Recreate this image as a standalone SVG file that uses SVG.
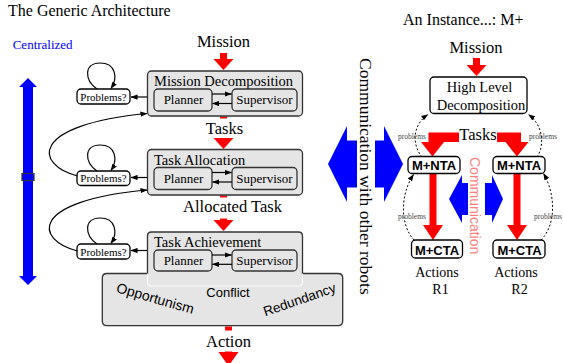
<svg xmlns="http://www.w3.org/2000/svg" width="563" height="363" viewBox="0 0 563 363">
<defs>
<marker id="ah" viewBox="0 0 8 6" refX="7.5" refY="3" markerWidth="7" markerHeight="5.5" markerUnits="userSpaceOnUse" orient="auto"><path d="M0,0 L8,3 L0,6 z" fill="#000"/></marker>
<style>
.serif{font-family:"Liberation Serif","Times New Roman",serif}
.sans{font-family:"Liberation Sans",Arial,sans-serif}
.box{fill:#e5e5e5;stroke:#333;stroke-width:1.3}
.wbox{fill:#fff;stroke:#000;stroke-width:1.3}
.red{fill:#ff0000}
.blue{fill:#0000ff}
.ln{fill:none;stroke:#000;stroke-width:1.2}
.dot{fill:none;stroke:#000;stroke-width:1;stroke-dasharray:2 2}
.bg{fill:#fff}
.lbl{font-size:16.5px;text-anchor:middle}
.ttl{font-size:14.5px}
.pl{font-size:13px;text-anchor:middle}
.pb{font-size:11px;text-anchor:middle}
.mb{font-size:13px;font-weight:bold;text-anchor:middle}
.sp{font-size:7.5px;fill:#444}
</style>
</defs>

<!-- titles -->
<text class="serif" x="8" y="15.7" font-size="16">The Generic Architecture</text>
<text class="serif" x="12.7" y="49.3" font-size="13" fill="#0000ff">Centralized</text>
<text class="serif" x="403" y="25" font-size="16">An Instance...: M+</text>

<!-- left vertical scale arrow -->
<g id="scale">
<polygon class="blue" points="28,78 37,87 33,87 33,276 37,276 28,285 19,276 23,276 23,87 19,87"/>
<rect x="22" y="173.5" width="12" height="7" fill="#0000ff" stroke="#333" stroke-width="1.2"/>
</g>

<!-- red flow arrows (left) -->
<g id="flow-left">
<path class="red" d="M220 53 H227 V59 H233.5 L223.5 70 L213.5 59 H220 Z"/>
<text class="serif lbl" x="223.5" y="47">Mission</text>
<path class="red" d="M220 116.5 H227 V138 H233.5 L223.5 149 L213.5 138 H220 Z"/>
<rect class="bg" x="200" y="118.5" width="48" height="19.5"/>
<text class="serif lbl" x="224.5" y="134">Tasks</text>
<path class="red" d="M220 195.5 H227 V220 H233.5 L223.5 231 L213.5 220 H220 Z"/>
<rect class="bg" x="178" y="197.5" width="110" height="21"/>
<text class="serif lbl" x="232.5" y="211.5">Allocated Task</text>
<path class="red" d="M225 326.5 H232 V352 H238.5 L228.5 366 L218.5 352 H225 Z"/>
<rect class="bg" x="200" y="330.5" width="56" height="21"/>
<text class="serif lbl" x="228.5" y="346.5">Action</text>
</g>

<!-- Mission Decomposition -->
<g id="mission-decomposition">
<rect class="box" x="147.5" y="71" width="155" height="45" rx="4"/>
<text class="serif ttl" x="154" y="86">Mission Decomposition</text>
<rect class="box" x="154" y="89" width="58" height="22" rx="4"/>
<text class="serif pl" x="183.5" y="104">Planner</text>
<rect class="box" x="232" y="89" width="65" height="22" rx="4"/>
<text class="serif pl" x="264.5" y="104">Supervisor</text>
<path class="ln" d="M212 94 H231.5" marker-end="url(#ah)"/>
<path class="ln" d="M232 103.5 H212.5" marker-end="url(#ah)"/>
</g>
<g id="problems-1">
<rect class="wbox" x="77" y="89" width="53" height="15" rx="4" stroke-width="1"/>
<text class="serif pb" x="103.5" y="100.5">Problems?</text>
</g>

<!-- Task Allocation -->
<g id="task-allocation">
<rect class="box" x="147.5" y="149.5" width="155" height="45.5" rx="4"/>
<text class="serif ttl" x="154" y="164.5">Task Allocation</text>
<rect class="box" x="154" y="167.5" width="58" height="22" rx="4"/>
<text class="serif pl" x="183.5" y="182.5">Planner</text>
<rect class="box" x="232" y="167.5" width="65" height="22" rx="4"/>
<text class="serif pl" x="264.5" y="182.5">Supervisor</text>
<path class="ln" d="M212 172.5 H231.5" marker-end="url(#ah)"/>
<path class="ln" d="M232 182 H212.5" marker-end="url(#ah)"/>
</g>
<g id="problems-2">
<rect class="wbox" x="77" y="171" width="53" height="14.5" rx="4" stroke-width="1"/>
<text class="serif pb" x="103.5" y="182">Problems?</text>
</g>

<!-- Task Achievement + conflict area -->
<g id="task-achievement">
<path class="box" d="M151.5 232 H298.5 Q302.5 232 302.5 236 V273.5 H338 Q342.7 273.5 342.7 278 V321 Q342.7 325.7 338 325.7 H107 Q102.3 325.7 102.3 321 V278 Q102.3 273.5 107 273.5 H147.5 V236 Q147.5 232 151.5 232 Z"/>
<path d="M147.5 273.5 V282 Q147.5 286 151.5 286 H298.5 Q302.5 286 302.5 282 V273.5" fill="none" stroke="#fff" stroke-width="1.2" opacity="0.85"/>
<text class="serif ttl" x="154" y="246.5">Task Achievement</text>
<rect class="box" x="154" y="250" width="58" height="21" rx="4"/>
<text class="serif pl" x="183.5" y="265">Planner</text>
<rect class="box" x="232" y="250" width="65" height="21" rx="4"/>
<text class="serif pl" x="264.5" y="265">Supervisor</text>
<path class="ln" d="M212 255 H231.5" marker-end="url(#ah)"/>
<path class="ln" d="M232 264.3 H212.5" marker-end="url(#ah)"/>
<text class="sans" font-size="14" text-anchor="middle" transform="translate(154,303) rotate(16)">Opportunism</text>
<text class="sans" font-size="13" text-anchor="middle" x="228" y="296.5">Conflict</text>
<text class="sans" font-size="13.5" text-anchor="middle" transform="translate(301,304) rotate(-19)">Redundancy</text>
</g>
<g id="problems-3">
<rect class="wbox" x="77" y="244" width="53" height="15" rx="4" stroke-width="1"/>
<text class="serif pb" x="103.5" y="255.5">Problems?</text>
</g>

<!-- left connectors -->
<g id="connectors-left">
<path class="ln" d="M147 97 H131" marker-end="url(#ah)"/>
<path class="ln" d="M147 177.5 H131" marker-end="url(#ah)"/>
<path class="ln" d="M147 250.5 H131" marker-end="url(#ah)"/>
<path class="ln" d="M97 89 C84 80,84 63,100 63 C116 63,118 78,111 88.5" marker-end="url(#ah)"/>
<path class="ln" d="M97 171 C84 162,84 145,100 145 C116 145,118 160,111 170.5" marker-end="url(#ah)"/>
<path class="ln" d="M97 244 C84 235,84 218,100 218 C116 218,118 233,111 243.5" marker-end="url(#ah)"/>
<path class="ln" d="M77.5 176 C35 165,28 125,147 113.5" marker-end="url(#ah)"/>
<path class="ln" d="M77.5 251 C35 240,28 201,147 190" marker-end="url(#ah)"/>
</g>

<!-- communication with other robots -->
<g id="communication-big">
<polygon class="blue" points="328,164 347,126 347,140.5 384,140.5 384,126 403,164 384,202 384,187.5 347,187.5 347,202"/>
<rect class="bg" x="357" y="120" width="18" height="90"/>
<text class="serif" font-size="17.5" transform="translate(359.5,58) rotate(90)">Communication with other robots</text>
</g>

<!-- right panel -->
<g id="flow-right">
<path class="red" d="M473 58 H480 V65 H486.5 L476.5 76 L466.5 65 H473 Z"/>
<text class="serif lbl" x="476" y="52.5">Mission</text>
<polygon class="red" points="459,132.5 428.5,132.5 428.5,142 421,142 432.5,156.5 444,142 459,142"/>
<polygon class="red" points="497,132.5 521,132.5 521,142 528.5,142 517,156.5 505.5,142 497,142"/>
<text class="serif lbl" x="478" y="139.5">Tasks</text>
<path class="red" d="M429.5 173.5 H436.5 V225 H443 L433 240 L423 225 H429.5 Z"/>
<path class="red" d="M513.5 173.5 H520.5 V225 H527 L517 240 L507 225 H513.5 Z"/>
</g>

<g id="communication-small">
<polygon class="blue" points="449,199 462,175 462,183 492,183 492,175 503,199 492,223 492,215 462,215 462,223"/>
<rect class="bg" x="468" y="168" width="17" height="60"/>
<text class="sans" font-size="14" fill="#ff7f7f" transform="translate(470,157) rotate(90)">Communication</text>
</g>

<g id="high-level-decomposition">
<rect class="wbox" x="430" y="77" width="97" height="36.5" rx="4"/>
<text class="serif" font-size="14.5" text-anchor="middle" x="479.5" y="91.5">High Level</text>
<text class="serif" font-size="14.5" text-anchor="middle" x="481" y="110">Decomposition</text>
</g>

<g id="nta-r1">
<rect class="wbox" x="408" y="156.5" width="52" height="17" rx="4"/>
<text class="sans mb" x="434" y="169.5">M+NTA</text>
</g>
<g id="nta-r2">
<rect class="wbox" x="493" y="156.5" width="52" height="17" rx="4"/>
<text class="sans mb" x="519" y="169.5">M+NTA</text>
</g>
<g id="cta-r1">
<rect class="wbox" x="411.5" y="240" width="51" height="18" rx="4"/>
<text class="sans mb" x="437" y="254.5">M+CTA</text>
</g>
<g id="cta-r2">
<rect class="wbox" x="493" y="240" width="52" height="18" rx="4"/>
<text class="sans mb" x="519.5" y="254.5">M+CTA</text>
</g>

<text class="serif" font-size="14" text-anchor="middle" x="437" y="277">Actions</text>
<text class="serif" font-size="14" text-anchor="middle" x="440.5" y="294">R1</text>
<text class="serif" font-size="14" text-anchor="middle" x="516" y="277">Actions</text>
<text class="serif" font-size="14" text-anchor="middle" x="519.5" y="294">R2</text>

<g id="connectors-right">
<path class="dot" d="M422 157 C412 145,412 125,428 114.5" marker-end="url(#ah)"/>
<path class="dot" d="M537 157 C545 145,543 125,528.5 114.5" marker-end="url(#ah)"/>
<path class="dot" d="M414 240 C400 225,400 195,413.5 174.5" marker-end="url(#ah)"/>
<path class="dot" d="M541 240 C556 225,556 195,543.5 173.5" marker-end="url(#ah)"/>
<text class="serif sp" x="398" y="138.5">problems</text>
<text class="serif sp" x="529" y="138.5">problems</text>
<text class="serif sp" x="398" y="219">problems</text>
<text class="serif sp" x="534" y="219" font-size="7.2">problems</text>
</g>
</svg>
